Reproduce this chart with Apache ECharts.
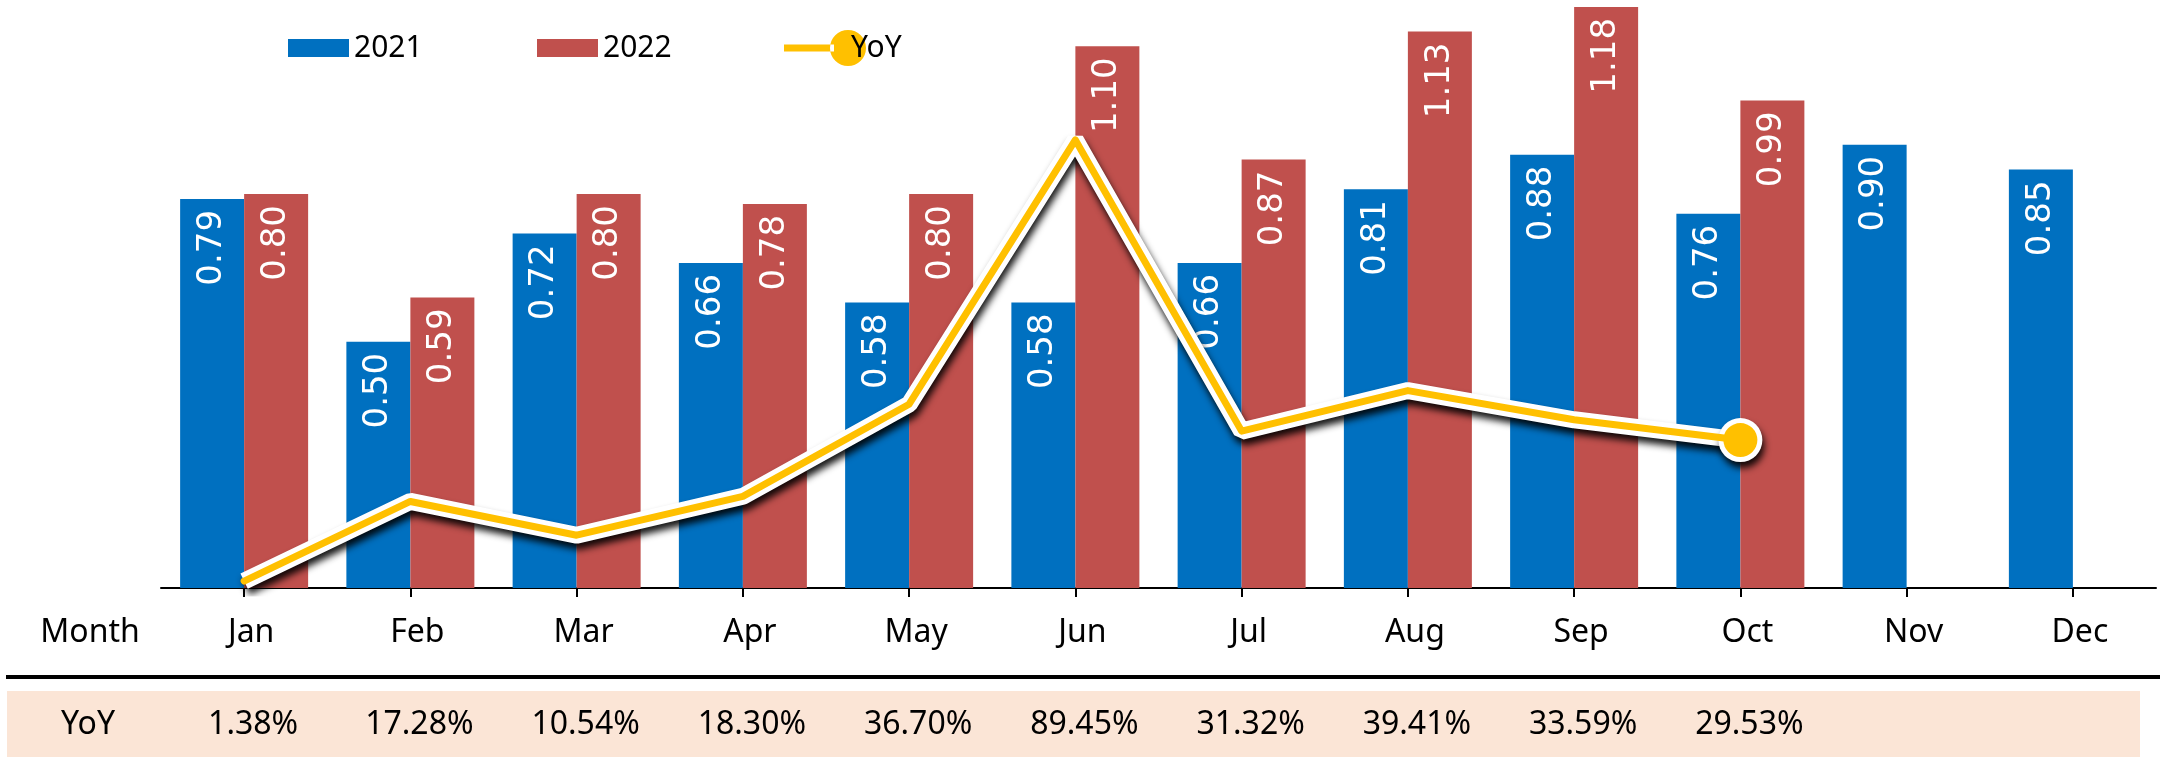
<!DOCTYPE html>
<html>
<head>
<meta charset="utf-8">
<script src="https://cdn.jsdelivr.net/npm/echarts@6/dist/echarts.min.js"></script>
<style>
html,body{margin:0;padding:0;background:#fff;}
#chart{width:2165px;height:757px;}
</style>
</head>
<body>
<div id="chart"></div>
<script>
const months = ['Jan','Feb','Mar','Apr','May','Jun','Jul','Aug','Sep','Oct','Nov','Dec'];
const sales2021 = [0.79,0.50,0.72,0.66,0.58,0.58,0.66,0.81,0.88,0.76,0.90,0.85];
const sales2022 = [0.80,0.59,0.80,0.78,0.80,1.10,0.87,1.13,1.18,0.99,null,null];
const yoy = [1.38,17.28,10.54,18.30,36.70,89.45,31.32,39.41,33.59,29.53,null,null];
const rowTitleMonth = 'Month';
const rowTitleYoY = 'YoY';

const yoyLabels = yoy.map(v => v == null ? '' : v.toFixed(2) + '%');
const lastIdx = yoy.reduce((a, v, i) => v == null ? a : i, 0);

const BLUE = '#0070C0', RED = '#C0504D', YEL = '#FFC000';
const FONT = '"Noto Sans", sans-serif';

const barLabel = {
  show: true, position: 'insideTop', rotate: 90, align: 'right', verticalAlign: 'middle',
  distance: 11, color: '#fff', fontSize: 34, fontFamily: 'DejaVu Sans',
  formatter: p => p.value == null ? '' : Number(p.value).toFixed(2)
};

const chart = echarts.init(document.getElementById('chart'), null, {renderer: 'canvas'});
chart.setOption({
  animation: false,
  backgroundColor: '#fff',
  grid: {left: 161, right: 9, top: 2, bottom: 169, containLabel: false},
  legend: [
    {left: 288, top: 33, padding: 0, itemWidth: 61, itemHeight: 18, itemGap: 0,
     textStyle: {fontSize: 30, fontFamily: FONT, color: '#000', lineHeight: 30},
     data: [{name: '2021', icon: 'rect'}]},
    {left: 537, top: 33, padding: 0, itemWidth: 61, itemHeight: 18, itemGap: 0,
     textStyle: {fontSize: 30, fontFamily: FONT, color: '#000', lineHeight: 30},
     data: [{name: '2022', icon: 'rect'}]},
    {left: 784, top: 30, padding: 0, itemWidth: 82, itemHeight: 36, itemGap: 0,
     textStyle: {fontSize: 30, fontFamily: FONT, color: '#000', lineHeight: 30, padding: [0, 0, 0, -20]},
     data: [{name: 'YoY', icon: 'path://M0,14.5 L50,14.5 L50,21.5 L0,21.5 Z M46,18 A18,18 0 1,0 82,18 A18,18 0 1,0 46,18 Z'}]}
  ],
  xAxis: [
    {type: 'category', data: months, boundaryGap: true,
     axisLine: {show: true, lineStyle: {color: '#000', width: 2}},
     axisTick: {show: true, alignWithLabel: true, length: 9, lineStyle: {color: '#000', width: 2}},
     axisLabel: {fontSize: 32, fontFamily: FONT, color: '#000', margin: 29, padding: [0, 0, 0, 14]}},
    {type: 'category', data: yoyLabels, position: 'bottom', offset: 0, boundaryGap: true,
     axisLine: {show: false}, axisTick: {show: false},
     axisLabel: {fontSize: 32, fontFamily: FONT, color: '#000', margin: 121, interval: 0, padding: [0, 0, 0, 18]}}
  ],
  yAxis: [
    {type: 'value', min: 0, max: 1.19, show: false, splitLine: {show: false}},
    {type: 'value', min: 0, max: 117, show: false, splitLine: {show: false}}
  ],
  graphic: [
    {type: 'rect', shape: {x: 7, y: 691, width: 2133, height: 66}, style: {fill: '#FBE5D6'}, z: -10, silent: true},
    {type: 'rect', shape: {x: 6, y: 675, width: 2154, height: 4}, style: {fill: '#000'}, z: 10, silent: true},
    {type: 'text', x: 90, y: 633, style: {text: rowTitleMonth, fontSize: 32, fontFamily: FONT, fill: '#000', align: 'center', verticalAlign: 'middle'}},
    {type: 'text', x: 88, y: 725, style: {text: rowTitleYoY, fontSize: 32, fontFamily: FONT, fill: '#000', align: 'center', verticalAlign: 'middle'}}
  ],
  series: [
    {name: '2021', type: 'bar', data: sales2021, barWidth: 64, barGap: '0%',
     itemStyle: {color: BLUE}, label: barLabel},
    {name: '2022', type: 'bar', data: sales2022, barWidth: 64, barGap: '0%',
     itemStyle: {color: RED}, label: barLabel},
    {name: 'YoY-halo', type: 'line', yAxisIndex: 1, data: yoy, silent: true, z: 3,
     symbol: (v, p) => p.dataIndex === lastIdx ? 'circle' : 'none', symbolSize: 44,
     itemStyle: {color: '#fff', shadowColor: 'rgba(0,0,0,0.9)', shadowBlur: 7, shadowOffsetX: 2, shadowOffsetY: 6},
     lineStyle: {color: '#fff', width: 17, shadowColor: 'rgba(0,0,0,0.9)', shadowBlur: 7, shadowOffsetX: 2, shadowOffsetY: 6},
     connectNulls: false},
    {name: 'YoY', type: 'line', yAxisIndex: 1, data: yoy, z: 4,
     symbol: (v, p) => p.dataIndex === lastIdx ? 'circle' : 'none', symbolSize: 34,
     itemStyle: {color: YEL}, lineStyle: {color: YEL, width: 7, cap: 'round', join: 'round'},
     connectNulls: false}
  ]
});
</script>
</body>
</html>
